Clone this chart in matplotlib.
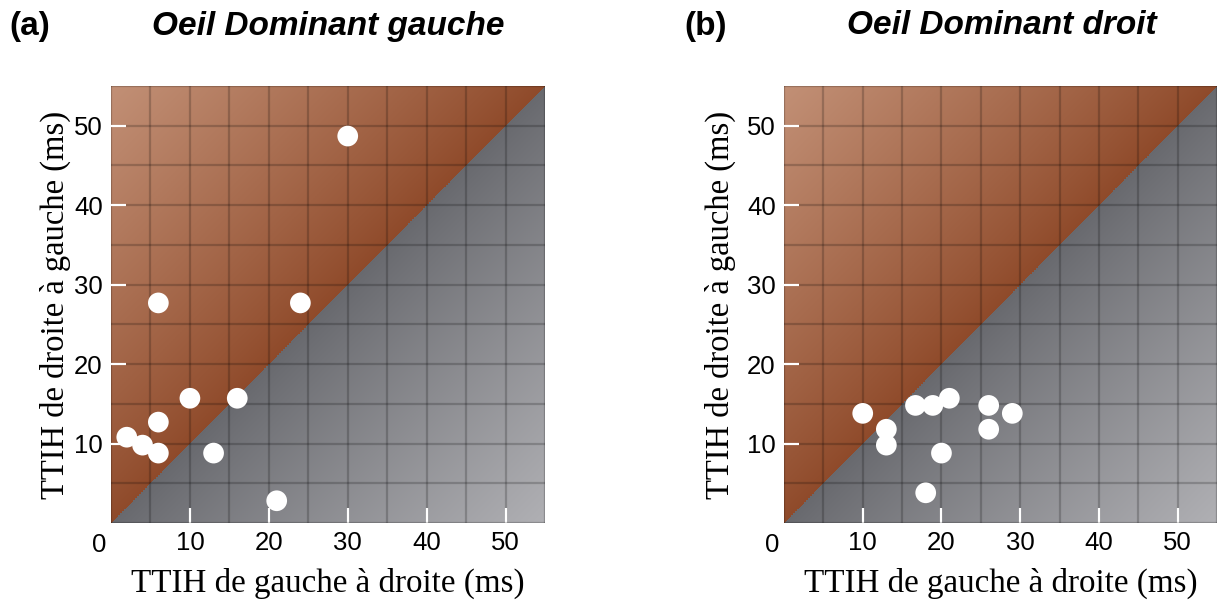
import numpy as np
import matplotlib
matplotlib.use("Agg")
import matplotlib.pyplot as plt
from matplotlib.ticker import MultipleLocator, FixedLocator

# ---- data ----
a_x = [30, 6, 24, 10, 16, 6, 2, 4, 6, 13, 21]
a_y = [48.7, 27.7, 27.7, 15.7, 15.7, 12.7, 10.8, 9.8, 8.8, 8.8, 2.8]
b_x = [10, 13, 13, 16.7, 18.9, 21, 26, 26, 29, 20, 18]
b_y = [13.8, 11.8, 9.8, 14.8, 14.8, 15.7, 14.8, 11.8, 13.8, 8.8, 3.8]
tick_vals = [10, 20, 30, 40, 50]
panel_letters = ["(a)", "(b)"]
titles = ["Oeil Dominant gauche", "Oeil Dominant droit"]
xlabel = "TTIH de gauche à droite (ms)"
ylabel = "TTIH de droite à gauche (ms)"
LIM = 55

W, H = 1217, 603
fig = plt.figure(figsize=(W / 100, H / 100), dpi=100)

brown_dark = np.array([143, 74, 42]) / 255
brown_light = np.array([194, 144, 118]) / 255
gray_dark = np.array([104, 105, 110]) / 255
gray_light = np.array([176, 176, 180]) / 255

n = 1100
g = (np.arange(n) + 0.5) / n * LIM
X, Y = np.meshgrid(g, g)
D = (Y - X) / LIM
up = D >= 0
t = np.clip(D, 0, 1)[..., None]
tb = np.clip(-D, 0, 1)[..., None]
img = np.where(up[..., None], brown_dark + (brown_light - brown_dark) * t ** 0.9,
               gray_dark + (gray_light - gray_dark) * tb ** 0.9)

axes_px = [(111, 86, 434, 437), (784, 86, 433, 437)]
ylab_x = [-0.092, -0.11]

for i, (xs, ys) in enumerate([(a_x, a_y), (b_x, b_y)]):
    l, t0, w, h = axes_px[i]
    ax = fig.add_axes([l / W, 1 - (t0 + h) / H, w / W, h / H])
    ax.imshow(img, extent=(0, LIM, 0, LIM), origin="lower", zorder=0,
              interpolation="nearest", aspect="auto")
    ax.set_xlim(0, LIM)
    ax.set_ylim(0, LIM)
    ax.xaxis.set_major_locator(FixedLocator(tick_vals))
    ax.yaxis.set_major_locator(FixedLocator(tick_vals))
    ax.xaxis.set_minor_locator(MultipleLocator(5))
    ax.yaxis.set_minor_locator(MultipleLocator(5))
    ax.grid(which="both", color="black", alpha=0.2, linewidth=1.6)
    ax.tick_params(which="major", direction="in", length=11, width=1.6,
                   color="white", labelsize=18.5, pad=6,
                   labelfontfamily="Liberation Sans")
    ax.tick_params(which="minor", length=0)
    for s in ax.spines.values():
        s.set_visible(False)
    ax.text(-1.5, -1.2, "0", ha="center", va="top", fontsize=18.5,
            family="Liberation Sans")
    ax.scatter(xs, ys, s=222, c="white", edgecolors="none", zorder=3)
    ax.set_xlabel(xlabel, fontsize=23.8, family="Liberation Serif")
    ax.set_ylabel(ylabel, fontsize=23.5, family="Liberation Serif")
    ax.xaxis.set_label_coords(0.5, -0.103)
    ax.yaxis.set_label_coords(ylab_x[i], 0.5)

fig.text(9 / W, 1 - 26 / H, panel_letters[0], fontsize=24, fontweight="bold",
         family="Liberation Sans", ha="left", va="center")
fig.text(684 / W, 1 - 26 / H, panel_letters[1], fontsize=24, fontweight="bold",
         family="Liberation Sans", ha="left", va="center")
fig.text(328 / W, 1 - 26 / H, titles[0], fontsize=24, fontweight="bold",
         fontstyle="italic", family="Liberation Sans", ha="center", va="center")
fig.text(1002 / W, 1 - 26 / H, titles[1], fontsize=24, fontweight="bold",
         fontstyle="italic", family="Liberation Sans", ha="center", va="center")

fig.savefig("out.png", dpi=100)
